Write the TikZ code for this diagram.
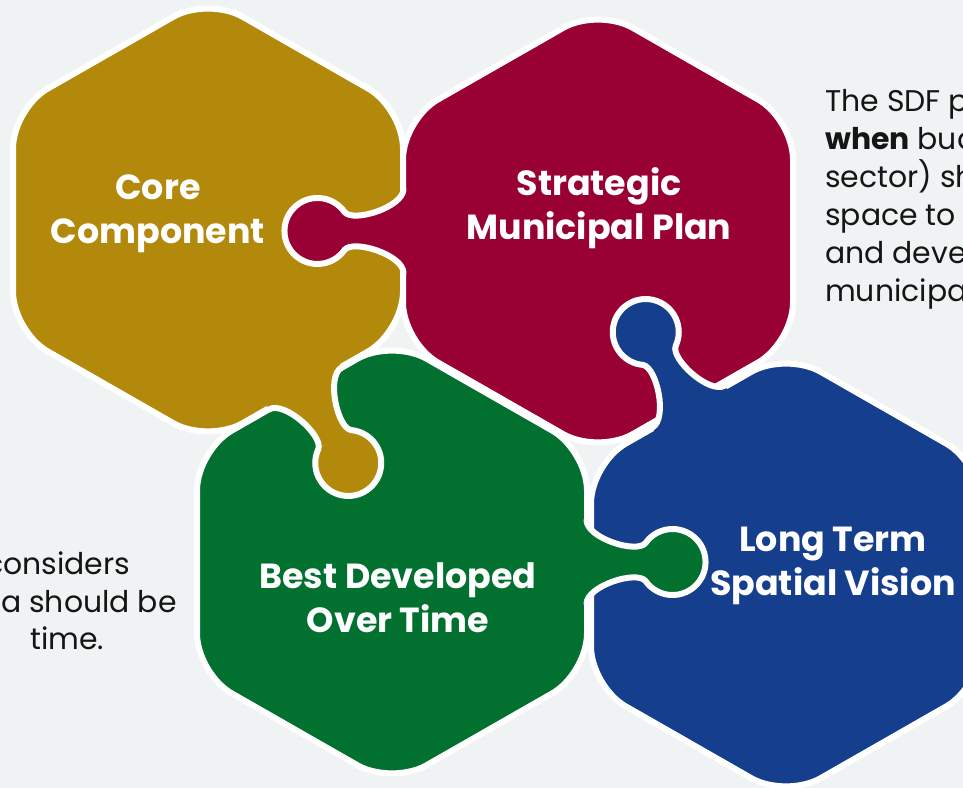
\documentclass[tikz,border=0pt]{standalone}
\usepackage{fontspec}
\setmainfont{Poppins}
\usetikzlibrary{calc}

\definecolor{pagebg}{HTML}{F0F3F4}
\definecolor{coregold}{HTML}{B3890B}
\definecolor{planred}{HTML}{990033}
\definecolor{timegreen}{HTML}{02702F}
\definecolor{visionblue}{HTML}{153E8D}
\definecolor{textdark}{HTML}{151515}

% knob of a puzzle piece: centre of the piece, outward angle, colour
\newcommand{\puzzleknob}[3]{%
  \begin{scope}[shift={($(#1)+(#2:194.5)$)}, rotate=#2-90]
    \fill[#3] (-42,-10) -- (-42,0) .. controls (-24,0) and (-8,50) .. (-18.9,59)
      arc[start angle=235, end angle=-55, radius=33]
      .. controls (8,50) and (24,0) .. (42,0) -- (42,-10) -- cycle;
    \draw[seam] (-42,0) .. controls (-24,0) and (-8,50) .. (-18.9,59)
      arc[start angle=235, end angle=-55, radius=33]
      .. controls (8,50) and (24,0) .. (42,0);
  \end{scope}}

\begin{document}
\begin{tikzpicture}[x=1bp, y=1bp,
  seam/.style={draw=white, line width=6bp, line cap=round},
  piece/.style={seam, rounded corners=40bp},
  piecetext/.style={text=white, align=center, inner sep=0,
    font=\bfseries\fontsize{35}{44}\selectfont},
  bodytext/.style={text=textdark, anchor=base west, inner sep=0,
    font=\fontsize{30}{38}\selectfont}]

	\useasboundingbox (0,0) rectangle (963,788);
	\fill[pagebg] (0,0) rectangle (963,788);
	\clip (0,0) rectangle (963,788);

	\coordinate (core) at (208,568);
	\coordinate (plan) at (598,557);
	\coordinate (best) at (392,226);
	\coordinate (vision) at (786,213);

	% hexagons
	\foreach \p/\col in {core/coregold, plan/planred, best/timegreen, vision/visionblue}
		\filldraw[piece, fill=\col] ($(\p)+(195,0)$) -- ($(\p)+(195,111.5)$)
			-- ($(\p)+(0,223)$) -- ($(\p)+(-195,111.5)$) -- ($(\p)+(-195,-111.5)$)
			-- ($(\p)+(0,-223)$) -- ($(\p)+(195,-111.5)$) -- cycle;

	% knobs
	\puzzleknob{plan}{180}{planred}
	\puzzleknob{core}{-60}{coregold}
	\puzzleknob{best}{0}{timegreen}
	\puzzleknob{vision}{120}{visionblue}

	% labels
	\node[piecetext] (corelabel) at (158,574) {Core\\Component};
	\node[piecetext] (planlabel) at (599,580) {Strategic\\Municipal Plan};
	\node[piecetext] (bestlabel) at (398,190) {Best Developed\\Over Time};
	\node[piecetext] (visionlabel) at (833,222) {Long Term\\Spatial Vision};

	% side texts
	\foreach \line [count=\i] in {The SDF p, {\textbf{when} bud}, sector) sh, space to, and deve, municipa}
		\node[bodytext] (sdf\i) at (825,714-38*\i) {\line};
	\node[bodytext] (left1) at (-15,213) {considers};
	\node[bodytext] (left2) at (1,175) {a should be};
	\node[bodytext] (left3) at (30,138) {time.};

\end{tikzpicture}
\end{document}
